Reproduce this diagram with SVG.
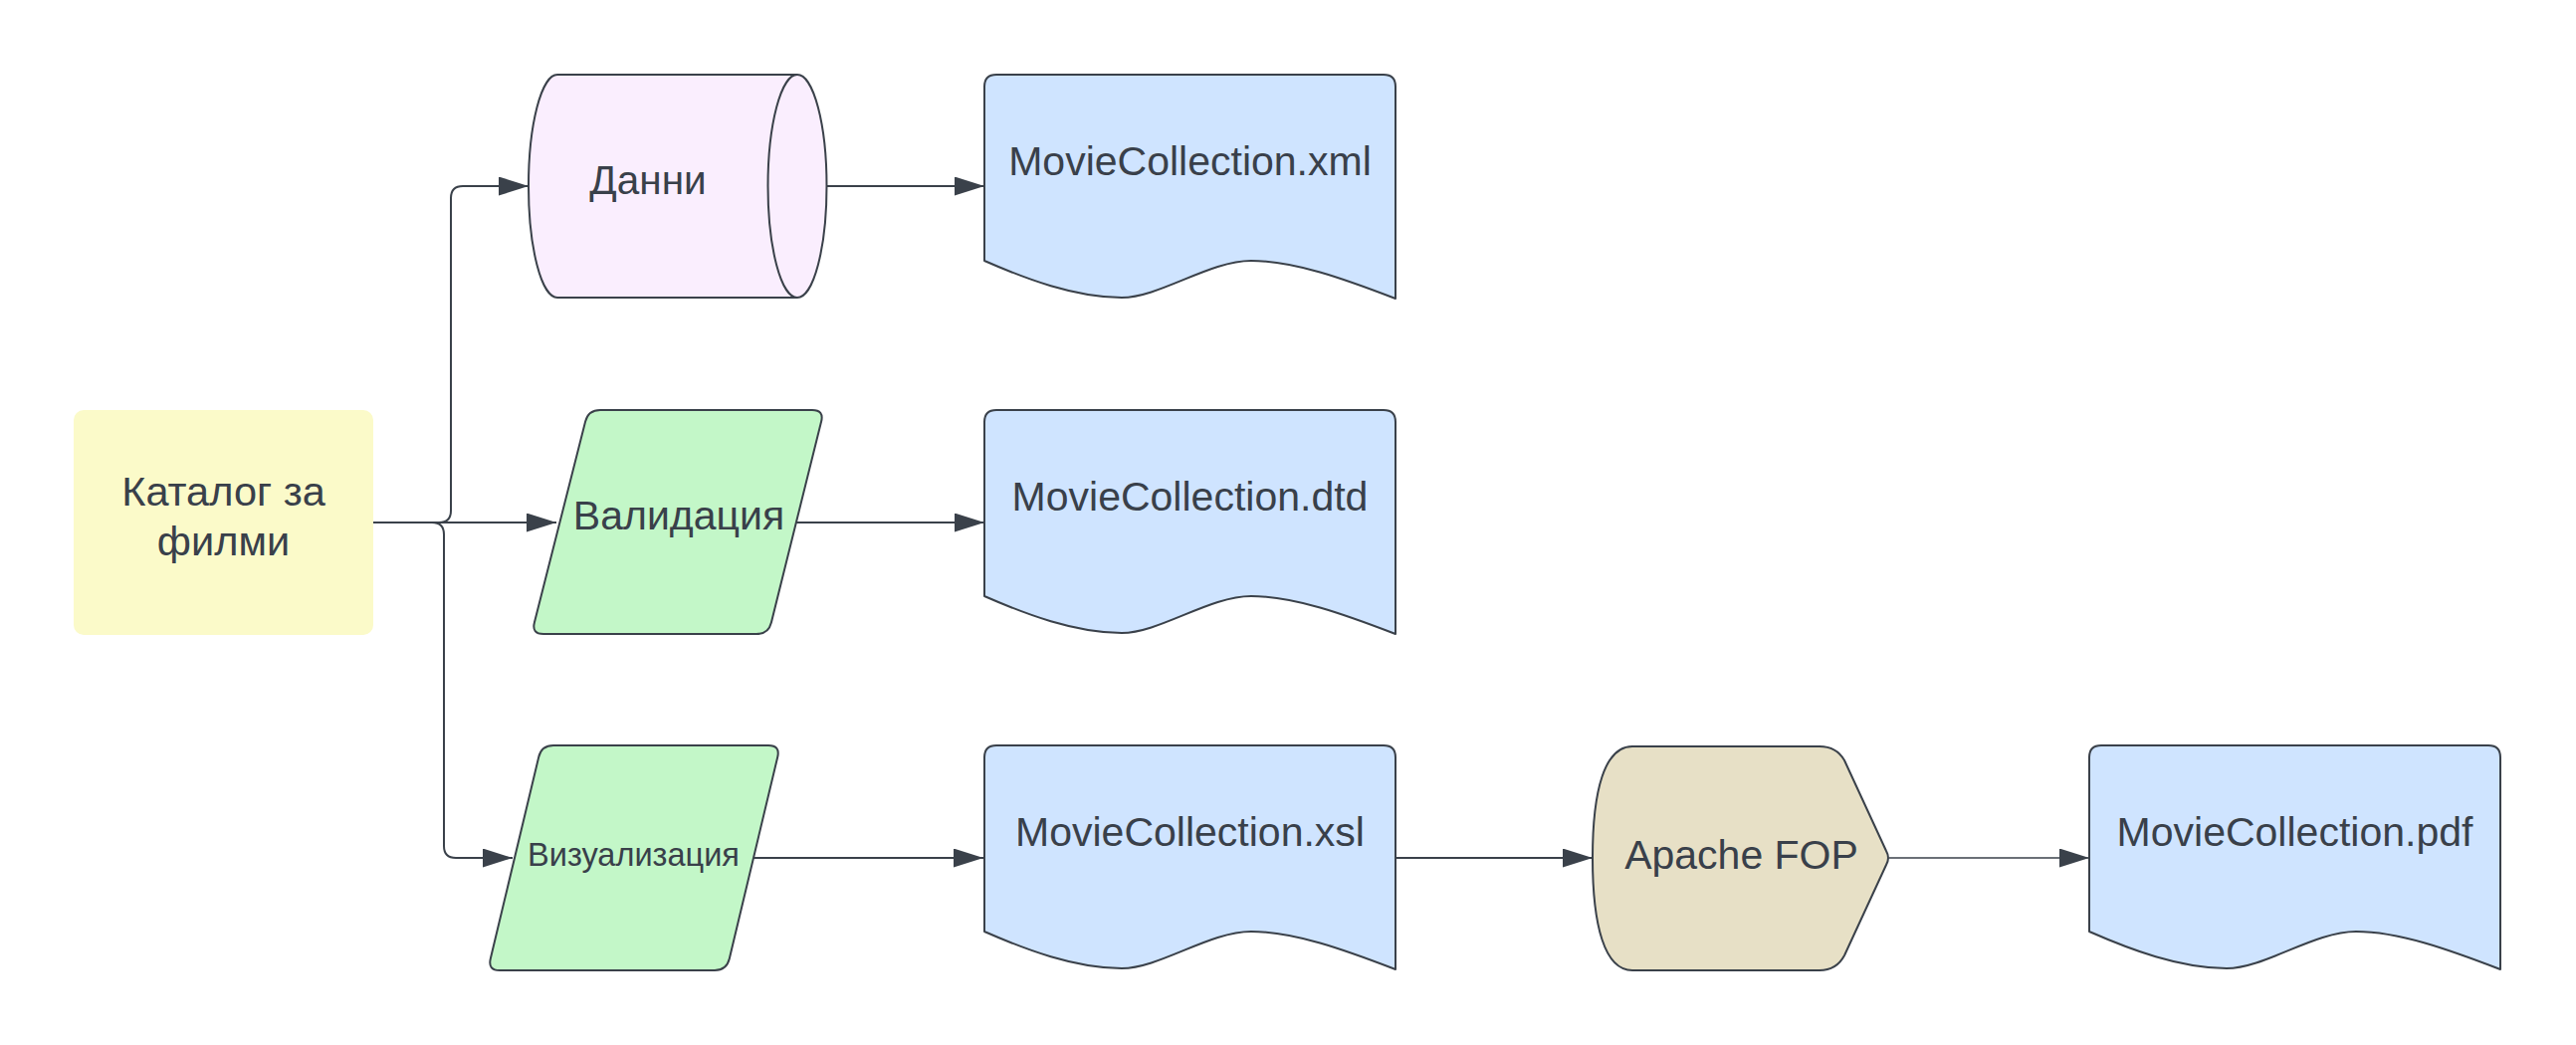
<svg xmlns="http://www.w3.org/2000/svg" width="2588" height="1050" viewBox="0 0 2588 1050">
<style>
  .lbl { font-family: "Liberation Sans", Arial, sans-serif; fill: #39404a; text-anchor: middle; }
  .shape { stroke: #3a414a; stroke-width: 2; stroke-linejoin: round; }
  .doc { fill: #cfe4ff; }
  .conn { fill: none; stroke: #3a414a; stroke-width: 2; }
  .thin { stroke-width: 1.3; }
</style>
<defs>
  <marker id="arrow" viewBox="0 0 30 19" refX="30" refY="9.5" markerWidth="30" markerHeight="19" markerUnits="userSpaceOnUse" orient="auto">
    <path d="M0,0 L30,9.5 L0,19 Z" fill="#3a414a"/>
  </marker>
  <path id="docshape" d="M0,12 Q0,0 12,0 L401,0 Q413,0 413,12 L413,225 C361,205 311,187 268,187 C226,187 176,224 138,224 C91,224 41,205 0,187 Z"/>
</defs>
<rect width="2588" height="1050" fill="#ffffff"/>

<g id="connectors">
  <path class="conn" d="M375,525 L441,525 Q453,525 453,513 L453,199 Q453,187 465,187 L531,187" marker-end="url(#arrow)"/>
  <path class="conn" d="M375,525 L559,525" marker-end="url(#arrow)"/>
  <path class="conn" d="M375,525 L434,525 Q446,525 446,537 L446,850 Q446,862 458,862 L515,862" marker-end="url(#arrow)"/>
  <path class="conn" d="M831,187 L989,187" marker-end="url(#arrow)"/>
  <path class="conn" d="M799,525 L989,525" marker-end="url(#arrow)"/>
  <path class="conn" d="M757,862 L988,862" marker-end="url(#arrow)"/>
  <path class="conn" d="M1402,862 L1600,862" marker-end="url(#arrow)"/>
  <path class="conn thin" d="M1898,862 L2099,862" marker-end="url(#arrow)"/>
</g>

<g id="catalog">
  <rect x="74" y="412" width="301" height="226" rx="10" fill="#fbfac9"/>
  <text class="lbl" x="224.5" y="508" font-size="41.5">Каталог за</text>
  <text class="lbl" x="224.5" y="558" font-size="41.5">филми</text>
</g>

<g id="data">
  <path class="shape" fill="#faeefe" d="M560,75 L801,75 A29.5,112 0 0 1 801,299 L560,299 A29,112 0 0 1 560,75 Z"/>
  <path class="shape" fill="none" d="M801,75 A29.5,112 0 0 0 801,299"/>
  <text class="lbl" x="651" y="195" font-size="40.5">Данни</text>
</g>

<g id="validation">
  <path class="shape" fill="#c3f7c8" d="M603,412 L816,412 Q828,412 825.1,423.6 L774.9,625.4 Q772,637 760,637 L546,637 Q534,637 536.9,625.4 L588.1,423.6 Q591,412 603,412 Z"/>
  <text class="lbl" x="682" y="532" font-size="41">Валидация</text>
</g>

<g id="visualization">
  <path class="shape" fill="#c3f7c8" d="M556,749 L772,749 Q784,749 781.2,760.7 L732.8,963.3 Q730,975 718,975 L502,975 Q490,975 492.8,963.3 L541.2,760.7 Q544,749 556,749 Z"/>
  <text class="lbl" x="636.5" y="870" font-size="32.5">Визуализация</text>
</g>

<g id="xml">
  <use href="#docshape" class="shape doc" transform="translate(989,75)"/>
  <text class="lbl" x="1195.5" y="176" font-size="41">MovieCollection.xml</text>
</g>

<g id="dtd">
  <use href="#docshape" class="shape doc" transform="translate(989,412)"/>
  <text class="lbl" x="1195.5" y="513" font-size="41">MovieCollection.dtd</text>
</g>

<g id="xsl">
  <use href="#docshape" class="shape doc" transform="translate(989,749)"/>
  <text class="lbl" x="1195.5" y="850" font-size="41">MovieCollection.xsl</text>
</g>

<g id="fop">
  <path class="shape" fill="#e7e0c6" d="M1640,750 L1828,750 Q1845,750 1853,764 L1895,855 Q1899,862 1895,869 L1853,960 Q1845,975 1828,975 L1640,975 C1612,975 1600,930 1600,862 C1600,794 1612,750 1640,750 Z"/>
  <text class="lbl" x="1749.5" y="873" font-size="41">Apache FOP</text>
</g>

<g id="pdf">
  <use href="#docshape" class="shape doc" transform="translate(2099,749)"/>
  <text class="lbl" x="2305.5" y="850" font-size="41">MovieCollection.pdf</text>
</g>
</svg>
